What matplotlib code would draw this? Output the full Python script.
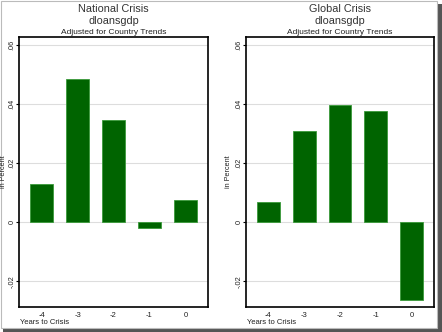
import matplotlib
matplotlib.use("Agg")
import matplotlib.pyplot as plt
from matplotlib.patches import Rectangle

years = [-4, -3, -2, -1, 0]
national = [0.0129, 0.0486, 0.0346, -0.0018, 0.0075]
global_ = [0.0070, 0.0310, 0.0397, 0.0376, -0.0264]
yticks = [-0.02, 0, 0.02, 0.04, 0.06]
ytick_labels = ["-.02", "0", ".02", ".04", ".06"]
xtick_labels = ["-4", "-3", "-2", "-1", "0"]
titles = ["National Crisis", "Global Crisis"]
subtitle = "dloansgdp"
note = "Adjusted for Country Trends"

W, H = 442, 332
fig = plt.figure(figsize=(W / 100, H / 100), dpi=100)
plt.rcParams['font.family'] = ['Liberation Sans', 'DejaVu Sans']

# frame and shadow
fig.patches.append(Rectangle((437 / W, 0), 5 / W, 1 - 4 / H, transform=fig.transFigure,
                             facecolor='#555555', edgecolor='none', zorder=0))
fig.patches.append(Rectangle((3 / W, 0), 1 - 3 / W, 4 / H, transform=fig.transFigure,
                             facecolor='#555555', edgecolor='none', zorder=0))
fig.patches.append(Rectangle((0.5 / W, 4 / H), 436.5 / W, 1 - 4.5 / H, transform=fig.transFigure,
                             facecolor='white', edgecolor='#bbbbbb', linewidth=0.8, zorder=1))

panels = [(19, 208, national, titles[0], 3.2), (246, 434, global_, titles[1], 229)]
top_px, bot_px = 37.3, 306.7
for x0, x1, vals, title, ylab_x in panels:
    ax = fig.add_axes([x0 / W, 1 - bot_px / H, (x1 - x0) / W, (bot_px - top_px) / H], zorder=2)
    ax.bar(years, vals, width=0.63, color='#006400', edgecolor='#3a9a3a', linewidth=0.6, zorder=3)
    ax.set_xlim(-4.63, 0.63)
    ax.set_ylim(-0.0286, 0.0627)
    ax.set_yticks(yticks)
    ax.set_yticklabels(ytick_labels, rotation=90, va='center', fontsize=5.3, color='#222222')
    ax.set_xticks(years)
    ax.set_xticklabels(xtick_labels, fontsize=5.5, color='#222222')
    ax.tick_params(axis='x', length=0, pad=4)
    ax.tick_params(axis='y', length=2.2, width=0.8, pad=0.3)
    ax.grid(axis='y', color='#dddddd', linewidth=0.8, zorder=0)
    ax.set_axisbelow(True)
    for s in ax.spines.values():
        s.set_linewidth(1.2)
        s.set_color('black')
    ax.set_ylabel("in Percent", fontsize=5.2, color='#222222', va='center')
    ax.yaxis.set_label_coords((ylab_x - x0) / (x1 - x0), 0.5)
    cx = (x0 + x1) / 2 / W
    fig.text(cx, 1 - 9 / H, title, ha='center', va='center', fontsize=7.8, color='#333333')
    fig.text(cx, 1 - 21 / H, subtitle, ha='center', va='center', fontsize=7.8, color='#333333')
    fig.text(cx, 1 - 32 / H, note, ha='center', va='center', fontsize=6, color='#222222')
    fig.text(x0 / W + 1 / W, 1 - 323 / H, "Years to Crisis", ha='left', va='center',
             fontsize=5.5, color='#222222')

fig.savefig("out.png", dpi=100)
